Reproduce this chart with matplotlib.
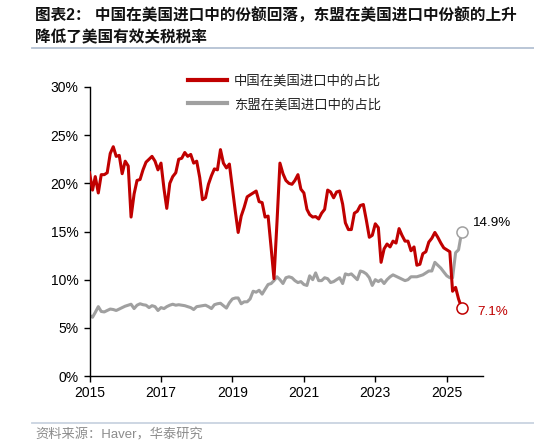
import matplotlib
matplotlib.use("Agg")
import matplotlib.pyplot as plt
from matplotlib.lines import Line2D
import pandas as pd

plt.rcParams['font.family'] = ['Liberation Sans', 'Noto Sans CJK SC', 'DejaVu Sans']

start_month = "2015-01"
china_share = [
    21.1, 19.3, 20.7, 19.0, 20.9, 20.9, 21.1, 23.1, 23.8, 22.8, 22.9, 21.0,
    22.3, 21.8, 16.5, 18.9, 20.3, 20.4, 21.4, 22.2, 22.5, 22.8, 22.3, 21.4,
    22.1, 19.4, 17.4, 20.0, 20.7, 21.1, 22.5, 22.6, 23.2, 22.8, 23.0, 22.1,
    22.3, 20.6, 18.3, 18.5, 19.9, 20.8, 21.5, 21.4, 23.5, 22.1, 21.6, 22.0,
    19.5, 17.0, 14.9, 16.6, 17.5, 18.6, 18.8, 19.0, 19.2, 18.1, 18.0, 16.5,
    16.6, 13.3, 10.1, 16.0, 22.1, 21.0, 20.3, 20.0, 19.9, 20.3, 20.9, 19.4,
    19.0, 17.3, 16.75, 16.5, 16.55, 16.3, 16.9, 17.3, 19.3, 19.1, 18.5, 19.1,
    19.2, 17.85, 15.9, 15.2, 15.2, 16.9, 17.1, 17.7, 17.8, 16.2, 14.4, 14.6,
    15.8, 15.4, 11.8, 13.2, 13.7, 13.4, 14.0, 13.8, 15.3, 14.6, 14.0, 14.0,
    13.0, 13.4, 11.5, 11.6, 12.7, 12.9, 13.9, 14.3, 14.9, 14.4, 13.8, 13.3,
    13.1, 12.9, 8.8, 9.2, 8.0, 7.1,
]
asean_share = [
    6.3, 6.1, 6.6, 7.2, 6.7, 6.65, 6.8, 6.95, 6.9, 6.8, 6.95, 7.1,
    7.25, 7.35, 7.45, 7.0, 7.35, 7.5, 7.4, 7.35, 7.1, 7.3, 7.2, 6.8,
    7.1, 7.0, 7.2, 7.35, 7.45, 7.35, 7.4, 7.35, 7.3, 7.2, 7.1, 6.9,
    7.2, 7.25, 7.3, 7.35, 7.2, 7.0, 7.4, 7.5, 7.55, 7.3, 7.05, 7.6,
    8.0, 8.1, 8.1, 7.5, 7.7, 7.7, 8.0, 8.8, 8.7, 8.9, 8.5, 9.0,
    9.5, 9.6, 9.9, 10.3, 10.0, 9.6, 10.2, 10.3, 10.2, 9.9, 9.7, 9.8,
    9.5, 9.4, 10.4, 10.0, 10.7, 9.9, 9.9, 10.2, 10.1, 9.7, 9.8, 10.0,
    10.2, 9.6, 10.6, 10.5, 10.6, 10.3, 10.0, 10.9, 10.8, 10.6, 10.2, 9.4,
    10.0, 9.8, 10.0, 9.6, 10.0, 10.3, 10.5, 10.35, 10.2, 10.05, 9.9, 10.0,
    10.3, 10.3, 10.3, 10.4, 10.5, 10.7, 10.9, 10.9, 11.8, 11.5, 11.2, 10.8,
    10.4, 10.2, 10.2, 12.8, 13.1, 14.9,
]
series_names = ["中国在美国进口中的占比", "东盟在美国进口中的占比"]
y_ticks = [0, 5, 10, 15, 20, 25, 30]
x_tick_years = [2015, 2017, 2019, 2021, 2023, 2025]
title_lines = ["图表2： 中国在美国进口中的份额回落，东盟在美国进口中份额的上升",
               "降低了美国有效关税税率"]
source_text = "资料来源：Haver，华泰研究"

RED = "#C00000"
GRAY = "#A0A0A0"
CJK = ['Noto Sans CJK SC', 'DejaVu Sans']

dates = pd.date_range(start_month, periods=len(china_share), freq="MS")

W, H = 534, 447
fig = plt.figure(figsize=(W / 100, H / 100), dpi=100)
ax = fig.add_axes([89.5 / W, 1 - 376 / H, 393 / W, (376 - 87) / H])

ax.plot(dates, china_share, color=RED, lw=2.2, solid_joinstyle='round', zorder=3)
ax.plot(dates, asean_share, color=GRAY, lw=2.2, solid_joinstyle='round', zorder=2)

ax.plot(dates[-1], china_share[-1], 'o', ms=8, mfc='white', mec=RED, mew=1.1, zorder=5)
ax.plot(dates[-1], asean_share[-1], 'o', ms=8, mfc='white', mec=GRAY, mew=1.1, zorder=5)

ax.annotate(f"{asean_share[-1]:.1f}%", (dates[-1], asean_share[-1]), xytext=(7.5, 7),
            textcoords='offset points', ha='left', va='center', fontsize=9.7, color='black',
            family=['Liberation Sans'])
ax.annotate(f"{china_share[-1]:.1f}%", (dates[-1], china_share[-1]), xytext=(11.5, -3),
            textcoords='offset points', ha='left', va='center', fontsize=9.7, color=RED,
            family=['Liberation Sans'])

ax.set_ylim(0, 30)
ax.set_yticks(y_ticks)
ax.set_yticklabels([f"{v}%" for v in y_ticks])
ax.set_xlim(pd.Timestamp("2015-01-01"), pd.Timestamp("2026-01-01"))
ax.set_xticks([pd.Timestamp(f"{y}-01-01") for y in x_tick_years])
ax.set_xticklabels([str(y) for y in x_tick_years])

for s in ['top', 'right']:
    ax.spines[s].set_visible(False)
for s in ['left', 'bottom']:
    ax.spines[s].set_linewidth(1.0)
    ax.spines[s].set_color('black')
ax.tick_params(axis='both', direction='out', length=4, width=1, labelsize=10, colors='black')
ax.tick_params(axis='y', pad=4)
ax.tick_params(axis='x', pad=3)

handles = [Line2D([], [], color=RED, lw=3), Line2D([], [], color=GRAY, lw=3)]
leg = fig.legend(handles, series_names, loc='upper left',
                 bbox_to_anchor=(184 / W, 1 - 70 / H), frameon=False,
                 prop={'family': CJK, 'size': 9.6}, handlelength=2.9, handletextpad=0.55,
                 labelspacing=0.68, borderaxespad=0, borderpad=0.3)
for t in leg.get_texts():
    t.set_color('#222222')

# title
fig.text(35 / W, 1 - 15 / H, title_lines[0], fontsize=11.25, fontweight='bold',
         ha='left', va='center', color='#111111')
fig.text(35 / W, 1 - 38 / H, title_lines[1], fontsize=11.25, fontweight='bold',
         ha='left', va='center', color='#111111')
fig.add_artist(Line2D([32 / W, 1.0], [1 - 47.5 / H, 1 - 47.5 / H], color='#B4C1D3', lw=1.3))

# source
fig.add_artist(Line2D([32 / W, 1.0], [1 - 422.5 / H, 1 - 422.5 / H], color='#C9D3E0', lw=1.3))
fig.text(35 / W, 1 - 435 / H, source_text, fontsize=9.5, ha='left', va='center', color='#8C8C8C')

fig.savefig("out.png", dpi=100)
